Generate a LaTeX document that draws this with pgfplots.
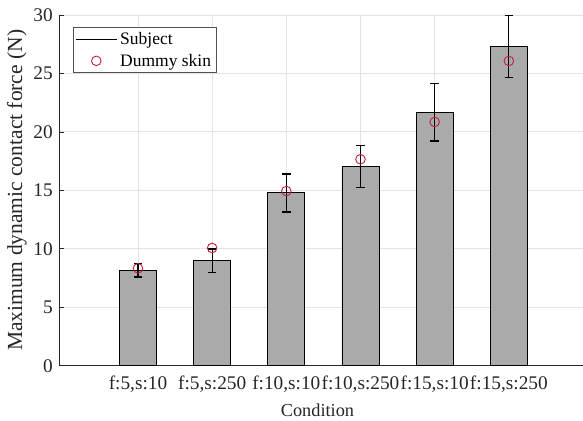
\documentclass[border=0pt]{standalone}
\usepackage{fontspec}
\setmainfont{Liberation Serif}
\usepackage{pgfplots}
\pgfplotsset{compat=1.18}
\usetikzlibrary{calc}
\definecolor{axc}{HTML}{262626}
\definecolor{gridc}{HTML}{E3E3E3}
\definecolor{barc}{HTML}{AAAAAA}
\definecolor{crim}{RGB}{196,30,58}
\begin{document}
\begin{tikzpicture}
\begin{axis}[
  width=524pt, height=350.7pt, scale only axis,
  xmin=-0.065, xmax=7, ymin=0, ymax=30,
  axis lines*=left,
  axis line style={axc, line width=0.8pt},
  tick align=inside, major tick length=5pt,
  tick style={axc, line width=0.6pt},
  xtick={1,2,3,4,5,6},
  xticklabels={{f:5,s:10},{f:5,s:250},{f:10,s:10},{f:10,s:250},{f:15,s:10},{f:15,s:250}},
  ytick={0,5,10,15,20,25,30},
  grid=major, grid style={gridc, line width=0.8pt},
  font=\fontsize{18}{21}\selectfont,
  ticklabel style={font=\fontsize{19.3}{22}\selectfont, text=axc},
  /pgf/number format/assume math mode=true,
  xticklabel style={anchor=base, yshift=-23.3pt},
  yticklabel style={inner sep=0pt, xshift=-6pt},
  ylabel={Maximum dynamic contact force (N)},
  xlabel={Condition},
  ylabel style={at={(axis description cs:-0.0706,0.5)}, anchor=base, text=axc, font=\fontsize{21.5}{24}\selectfont},
  xlabel style={at={(axis description cs:0.4933,0)}, anchor=base, yshift=-50.8pt, text=axc, font=\fontsize{18.3}{21}\selectfont},
  legend cell align=left,
  legend style={at={(0.0267,0.9658)}, anchor=north west, draw=axc!80, line width=0.8pt,
    font=\fontsize{17.5}{20}\selectfont, inner xsep=2pt, inner ysep=1pt,
    nodes={inner xsep=3pt, inner ysep=4pt},
    /tikz/every even column/.append style={column sep=-2pt}},
]
\addplot[ybar, bar width=0.5, fill=barc, draw=black, line width=0.9pt, forget plot]
  coordinates {(1,8.16) (2,8.98) (3,14.80) (4,17.08) (5,21.68) (6,27.32)};
\addplot[draw=none, mark=none, forget plot,
  error bars/.cd, y dir=both, y explicit,
  error bar style={line width=1.2pt, black},
  error mark options={rotate=90, line width=1.2pt, black, mark size=4.2pt}]
  coordinates {
   (1,8.16) += (0,0.57) -= (0,0.57)
   (2,8.98) += (0,1.00) -= (0,1.02)
   (3,14.80) += (0,1.60) -= (0,1.65)
   (4,17.08) += (0,1.74) -= (0,1.85)
   (5,21.68) += (0,2.44) -= (0,2.46)
   (6,27.32) += (0,2.65) -= (0,2.65)
  };
\addlegendimage{legend image code/.code={\draw[black, line width=0.8pt] (0pt,0pt) -- (41pt,0pt);}}
\addlegendentry{Subject}
\addplot[only marks, mark=o, mark size=4.8pt, draw=crim, line width=0.9pt,
  legend image code/.code={\path[draw=none] (0pt,0pt) -- (41pt,0pt);\draw[crim, line width=0.9pt, mark=o, mark size=4.8pt] plot coordinates {(20.5pt,0pt)};}]
  coordinates {(1,8.33) (2,10.07) (3,14.94) (4,17.66) (5,20.85) (6,26.07)};
\addlegendentry{Dummy skin}
\end{axis}
\pgfresetboundingbox
\useasboundingbox ($(current axis.south west)+(-59pt,-54.3pt)$) rectangle ++(583pt,420pt);
\end{tikzpicture}
\end{document}
